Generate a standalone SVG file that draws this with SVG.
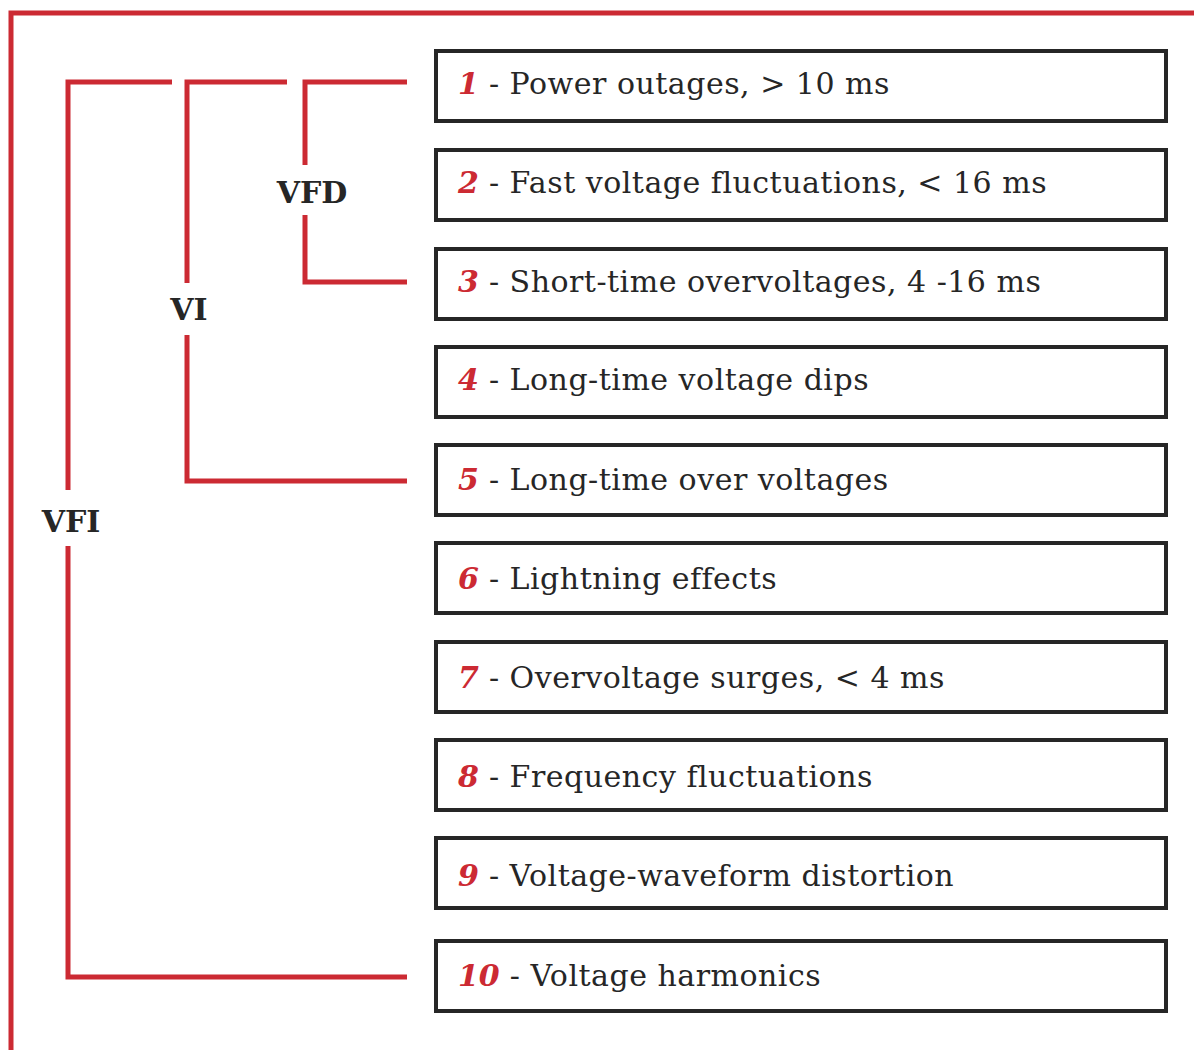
<svg xmlns="http://www.w3.org/2000/svg" width="1194" height="1050" viewBox="0 0 1194 1050">
<style>
.frame{fill:none;stroke:#cc2a33;stroke-width:5}
.br{fill:none;stroke:#cc2a33;stroke-width:5}
.box{fill:#fff;stroke:#262626;stroke-width:4}
.t{font-family:"DejaVu Serif","Liberation Serif",serif;font-size:30px;fill:#262626;letter-spacing:0.5px}
.n{font-weight:bold;font-style:italic;fill:#cc2a33;letter-spacing:0}
.lab{font-family:"DejaVu Serif","Liberation Serif",serif;font-size:30px;font-weight:bold;fill:#262626;text-anchor:middle}
</style>
<rect width="1194" height="1050" fill="#fff"/>
<g id="frame"><path class="frame" d="M11 1050 V13 H1194"/></g>
<g id="connectors">
<path class="br" d="M172 82 H68 V490"/>
<path class="br" d="M68 546 V977 H407"/>
<path class="br" d="M287 82 H187 V283"/>
<path class="br" d="M187 335 V481 H407"/>
<path class="br" d="M407 82 H305 V165"/>
<path class="br" d="M305 215 V282 H407"/>
</g>
<g id="label-vfd"><text class="lab" x="312" y="203">VFD</text></g>
<g id="label-vi"><text class="lab" x="189" y="320">VI</text></g>
<g id="label-vfi"><text class="lab" x="71" y="532">VFI</text></g>
<g id="node1"><rect class="box" x="436" y="51" width="730" height="70"/><text class="t" x="458" y="94"><tspan class="n">1</tspan> - Power outages, &gt; 10 ms</text></g>
<g id="node2"><rect class="box" x="436" y="150" width="730" height="70"/><text class="t" x="458" y="193"><tspan class="n">2</tspan> - Fast voltage fluctuations, &lt; 16 ms</text></g>
<g id="node3"><rect class="box" x="436" y="249" width="730" height="70"/><text class="t" x="458" y="292"><tspan class="n">3</tspan> - Short-time overvoltages, 4 -16 ms</text></g>
<g id="node4"><rect class="box" x="436" y="347" width="730" height="70"/><text class="t" x="458" y="390"><tspan class="n">4</tspan> - Long-time voltage dips</text></g>
<g id="node5"><rect class="box" x="436" y="445" width="730" height="70"/><text class="t" x="458" y="490"><tspan class="n">5</tspan> - Long-time over voltages</text></g>
<g id="node6"><rect class="box" x="436" y="543" width="730" height="70"/><text class="t" x="458" y="589"><tspan class="n">6</tspan> - Lightning effects</text></g>
<g id="node7"><rect class="box" x="436" y="642" width="730" height="70"/><text class="t" x="458" y="688"><tspan class="n">7</tspan> - Overvoltage surges, &lt; 4 ms</text></g>
<g id="node8"><rect class="box" x="436" y="740" width="730" height="70"/><text class="t" x="458" y="787"><tspan class="n">8</tspan> - Frequency fluctuations</text></g>
<g id="node9"><rect class="box" x="436" y="838" width="730" height="70"/><text class="t" x="458" y="886"><tspan class="n">9</tspan> - Voltage-waveform distortion</text></g>
<g id="node10"><rect class="box" x="436" y="941" width="730" height="70"/><text class="t" x="458" y="986"><tspan class="n">10</tspan> - Voltage harmonics</text></g>
</svg>
